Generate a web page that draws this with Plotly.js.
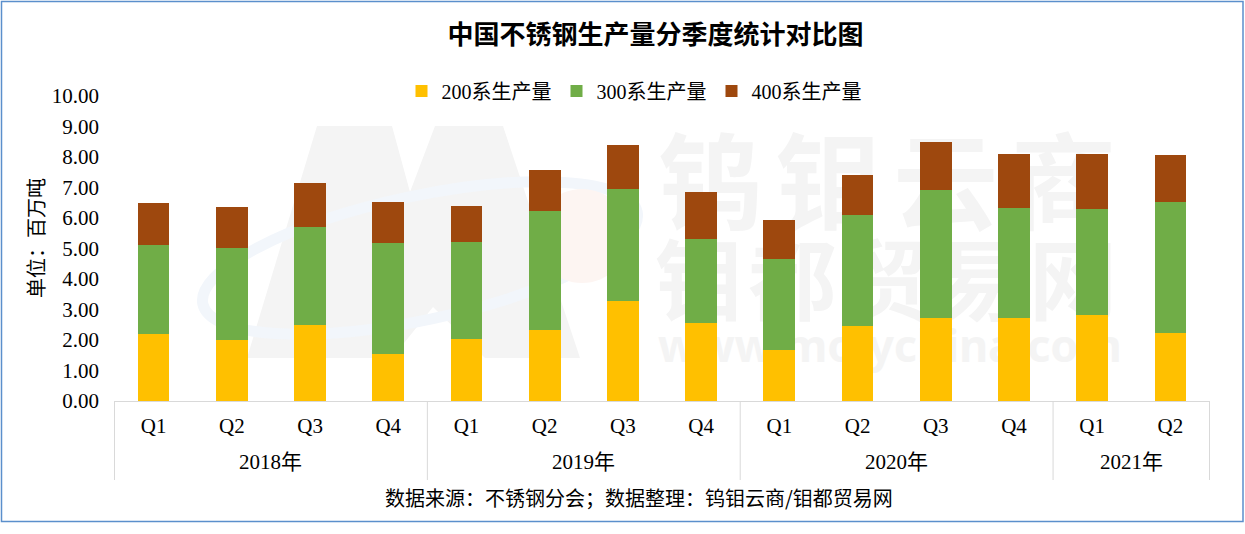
<!DOCTYPE html>
<html><head><meta charset="utf-8">
<script src="https://cdn.plot.ly/plotly-3.0.1.min.js"></script>
<style>html,body{margin:0;padding:0;background:#fff;}#chart{width:1245px;height:534px;}</style>
</head><body><div id="chart"></div>
<script>
// ---- data ----
const years = ['2018年','2018年','2018年','2018年','2019年','2019年','2019年','2019年','2020年','2020年','2020年','2020年','2021年','2021年'];
const quarters = ['Q1','Q2','Q3','Q4','Q1','Q2','Q3','Q4','Q1','Q2','Q3','Q4','Q1','Q2'];
const s200 = [2.20,2.00,2.49,1.54,2.03,2.33,3.28,2.56,1.67,2.46,2.72,2.72,2.82,2.23];
const s300 = [2.91,3.02,3.21,3.64,3.18,3.90,3.67,2.75,2.99,3.64,4.20,3.61,3.48,4.29];
const s400 = [1.38,1.34,1.45,1.34,1.18,1.34,1.44,1.54,1.27,1.31,1.57,1.77,1.80,1.55];
const seriesNames = ['200系生产量','300系生产量','400系生产量'];
const yTicks = [0,1,2,3,4,5,6,7,8,9,10];

const serif = '"Liberation Serif", "Noto Sans CJK SC", serif';
const cjk = '"Noto Sans CJK SC", sans-serif';
const colors = ['#FFC000','#70AD47','#9E480E'];
const vals = [s200,s300,s400];
const cats = years.map((y,i)=>y+' '+quarters[i]);

const traces = vals.map((v,i)=>({
  type:'bar', name:seriesNames[i], x:cats, y:v,
  marker:{color:colors[i], line:{width:0}}, hoverinfo:'skip'
}));

// year groups (from the data arrays)
const groups = [];
years.forEach((y,i)=>{
  const g = groups.length && groups[groups.length-1].year===y ? groups[groups.length-1] : null;
  if(g){ g.end=i; } else groups.push({year:y,start:i,end:i});
});

// watermark (decorative, drawn below bars)
const svg = `<svg xmlns="http://www.w3.org/2000/svg" width="1096" height="305" viewBox="114 96 1096 305">
<polygon points="247,358 317,126 392,126 410,192 435,126 503,126 580,358 485,358 433,307 392,358" fill="#f4f4f4"/>
<ellipse cx="420" cy="258" rx="222" ry="62" fill="none" stroke="#f2f6fb" stroke-width="11" transform="rotate(-12 420 258)"/>
<circle cx="582" cy="236" r="47" fill="#fdf5f2"/>
<text x="658" y="221" font-family="Noto Sans CJK SC" font-weight="bold" font-size="105" fill="#f4f4f4" textLength="458" lengthAdjust="spacing">钨钼云商</text>
<text x="655" y="313" font-family="Noto Sans CJK SC" font-weight="bold" font-size="88" fill="#f4f4f4" textLength="462" lengthAdjust="spacing">钼都贸易网</text>
<text x="658" y="362" font-family="Noto Sans" font-weight="bold" font-size="45" fill="#f4f4f4" textLength="464" lengthAdjust="spacing">www.molychina.com</text>
</svg>`;

const L=114, R=1210, T=96, B=401;
const px = x => (x-L)/(R-L);
const py = y => (B-y)/(B-T);

const annotations = groups.map(g=>({
  text:g.year, xref:'x', yref:'paper', x:(g.start+g.end)/2, y:py(462), xanchor:'center', yanchor:'middle',
  showarrow:false, font:{family:serif, size:21, color:'#000'}
}));
annotations.push({text:'数据来源：不锈钢分会；数据整理：钨钼云商/钼都贸易网', xref:'paper', yref:'paper', x:px(639), y:py(497), xanchor:'center', yanchor:'middle', showarrow:false, font:{family:cjk, size:20, color:'#000'}});
annotations.push({text:'单位：百万吨', xref:'paper', yref:'paper', x:px(35), y:py(238), xanchor:'center', yanchor:'middle', textangle:-90, showarrow:false, font:{family:cjk, size:20, color:'#000'}});

const shapes = [];
const bounds = [groups[0].start-0.5].concat(groups.map(g=>g.end+0.5));
bounds.forEach(b=>shapes.push({type:'line', xref:'x', yref:'paper', x0:b, x1:b, y0:py(401), y1:py(480), line:{color:'#d9d9d9', width:1}}));
shapes.push({type:'rect', xref:'paper', yref:'paper', x0:px(1.5), x1:px(1243), y0:py(521.5), y1:py(1.5), line:{color:'#5b8fcc', width:1.5}, fillcolor:'rgba(0,0,0,0)', layer:'above'});

const layout = {
  width:1245, height:534,
  margin:{l:L, r:1245-R, t:T, b:534-B},
  paper_bgcolor:'#fff', plot_bgcolor:'rgba(0,0,0,0)',
  barmode:'stack', bargap:0.595,
  title:{text:'<b>中国不锈钢生产量分季度统计对比图</b>', font:{family:cjk, size:26, color:'#000'}, x:655.5/1245, xanchor:'center', y:1-35/534, yanchor:'middle'},
  showlegend:true,
  legend:{orientation:'h', x:px(634), xanchor:'center', y:py(91), yanchor:'middle', font:{family:serif, size:20, color:'#000'}, traceorder:'normal'},
  xaxis:{type:'category', tickvals:cats, ticktext:quarters, showline:true, linecolor:'#d9d9d9', linewidth:1, showgrid:false, zeroline:false,
    ticks:'', ticklabelstandoff:6, tickfont:{family:serif, size:21, color:'#000'}, fixedrange:true},
  yaxis:{range:[0,10], tickvals:yTicks, tickformat:'.2f', showgrid:false, zeroline:false, showline:false, ticks:'',
    ticklabelstandoff:14, tickfont:{family:serif, size:21, color:'#000'}, fixedrange:true},
  images:[{source:'data:image/svg+xml;charset=utf-8,'+encodeURIComponent(svg), xref:'paper', yref:'paper', x:0, y:1, sizex:1, sizey:1, xanchor:'left', yanchor:'top', sizing:'stretch', layer:'below'}],
  annotations:annotations,
  shapes:shapes
};

Plotly.newPlot('chart', traces, layout, {displayModeBar:false, staticPlot:true});
</script></body></html>
